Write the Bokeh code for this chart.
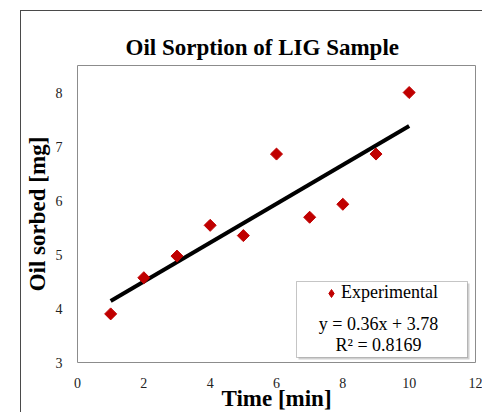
import numpy as np
from bokeh.plotting import figure
from bokeh.models import (BoxAnnotation, Label, Legend, LegendItem,
                          ColumnDataSource, Range1d, FixedTicker)
from bokeh.embed import file_html
from bokeh.resources import INLINE

# ---- data ----
time_min = [1, 2, 3, 4, 5, 6, 7, 8, 9, 10]
oil_sorbed = [3.90, 4.57, 4.97, 5.54, 5.35, 6.86, 5.69, 5.93, 6.86, 8.00]
fit_slope = 0.36
fit_intercept = 3.78
r_squared = 0.8169
x_ticks = [0, 2, 4, 6, 8, 10, 12]
y_ticks = [3, 4, 5, 6, 7, 8]

FONT = "Liberation Serif"

p = figure(width=462, height=402, output_backend="svg", toolbar_location=None,
           x_range=Range1d(0, 12), y_range=Range1d(3, 8.5),
           min_border_left=56, min_border_right=8, min_border_top=54,
           min_border_bottom=50)
# outer chart-area border (right/bottom edges lie outside the window)
p.styles = {"margin-left": "20px", "margin-top": "10px",
            "border-left": "1px solid #4a4a4a", "border-top": "1px solid #4a4a4a"}

p.title.text = "Oil Sorption of LIG Sample"
p.title.text_font = FONT
p.title.text_font_size = "23px"
p.title.text_font_style = "bold"
p.title.text_color = "black"
p.title.align = "left"
p.title.offset = 48
p.title.standoff = 11

p.grid.visible = False
p.outline_line_color = "#8c8c8c"
p.outline_line_width = 1

for ax in (p.xaxis[0], p.yaxis[0]):
    ax.axis_line_color = None
    ax.major_tick_line_color = None
    ax.minor_tick_line_color = None
    ax.major_tick_out = 0
    ax.major_tick_in = 0
    ax.major_label_text_font = FONT
    ax.major_label_text_font_size = "14px"
    ax.major_label_text_color = "#222222"
    ax.axis_label_text_font = FONT
    ax.axis_label_text_font_size = "23px"
    ax.axis_label_text_font_style = "bold"
    ax.axis_label_text_color = "black"

p.xaxis.ticker = FixedTicker(ticks=x_ticks)
p.yaxis.ticker = FixedTicker(ticks=y_ticks)
p.xaxis.axis_label = "Time [min]"
p.yaxis.axis_label = "Oil sorbed [mg]"
p.xaxis.major_label_text_line_height = 0.9
p.xaxis.axis_label_text_line_height = 0.9
p.xaxis.major_label_standoff = 15
p.xaxis.axis_label_standoff = -5
p.yaxis.major_label_standoff = 15
p.yaxis.axis_label_standoff = 3

# trendline
tx = np.array([min(time_min), max(time_min)], dtype=float)
ty = fit_slope * tx + fit_intercept
p.line(tx, ty, line_color="black", line_width=4)

src = ColumnDataSource(dict(x=time_min, y=oil_sorbed))
p.scatter("x", "y", source=src, marker="square", angle=np.pi / 4,
          size=8.5, fill_color="#c00000", line_color="#c00000")
# hidden twin used only for the legend swatch (diamond shape)
legend_pts = p.scatter("x", "y", source=src, marker="diamond", size=8,
                       fill_color="#c00000", line_color="#c00000", visible=False)

# legend box with shadow
p.add_layout(BoxAnnotation(left=276, top=271, right=447, bottom=347,
                           left_units="canvas", right_units="canvas",
                           top_units="canvas", bottom_units="canvas",
                           fill_color="#d0d0d0", fill_alpha=1, line_color=None))
p.add_layout(BoxAnnotation(left=274, top=269, right=445, bottom=345,
                           left_units="canvas", right_units="canvas",
                           top_units="canvas", bottom_units="canvas",
                           fill_color="white", fill_alpha=1,
                           line_color="#404040", line_width=1))

legend = Legend(items=[LegendItem(label="Experimental", renderers=[legend_pts])],
                location=(244, 59), border_line_color=None,
                background_fill_alpha=0, padding=0, margin=0,
                glyph_width=20, glyph_height=20, label_standoff=0,
                label_text_font=FONT, label_text_font_size="18px",
                label_text_color="black", click_policy="none")
p.add_layout(legend)

eq_text = f"y = {fit_slope:.2f}x + {fit_intercept:.2f}"
r2_text = f"R² = {r_squared:.4f}"
p.add_layout(Label(x=356, y=311, x_units="canvas", y_units="canvas",
                   text=eq_text, text_font=FONT, text_font_size="18px",
                   text_align="center", text_baseline="middle",
                   text_color="black"))
p.add_layout(Label(x=356, y=332, x_units="canvas", y_units="canvas",
                   text=r2_text, text_font=FONT, text_font_size="18px",
                   text_align="center", text_baseline="middle",
                   text_color="black"))

open("out.html", "w").write(file_html(p, INLINE))
